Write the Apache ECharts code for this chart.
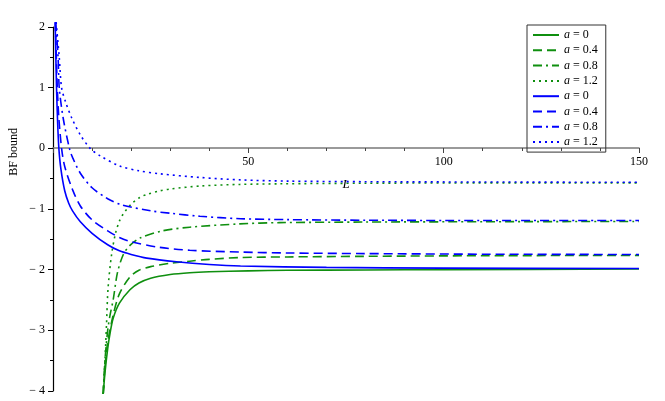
<!DOCTYPE html>
<html>
<head>
<meta charset="utf-8">
<script src="https://cdn.jsdelivr.net/npm/echarts@6/dist/echarts.min.js"></script>
<style>
  html, body { margin: 0; padding: 0; background: #fff; }
  #chart { width: 665px; height: 401px; }
</style>
</head>
<body>
<div id="chart"></div>
<script>
// green curves (rise from -4)
const greenSolidL = [12.85, 13.3, 14, 14.6, 15.4, 17, 19.7, 22, 25, 30, 35, 40, 50, 60, 80, 100, 150]
const greenSolidV = [-4.05, -3.7, -3.3, -3.05, -2.8, -2.55, -2.33, -2.22, -2.14, -2.08, -2.05, -2.035, -2.02, -2.01, -2.005, -2.0, -1.99]
const greenDashL = [12.85, 13.3, 14, 15.4, 17, 19.7, 22, 25, 30, 35, 40, 48, 60, 80, 110, 150]
const greenDashV = [-4.05, -3.6, -3.2, -2.75, -2.4, -2.12, -2.01, -1.95, -1.895, -1.86, -1.83, -1.8, -1.79, -1.78, -1.77, -1.765]
const greenDashDotL = [12.85, 13.3, 14, 14.6, 15.4, 16.5, 18, 19.7, 22.2, 28, 35, 47.8, 58, 80, 110, 150]
const greenDashDotV = [-4.05, -3.5, -3.0, -2.75, -2.5, -2.05, -1.75, -1.6, -1.48, -1.36, -1.3, -1.245, -1.225, -1.215, -1.21, -1.205]
const greenDotL = [12.85, 13.3, 13.7, 14.1, 15, 16, 17, 18, 20, 22.2, 24, 27.4, 30, 38, 47.8, 58, 80, 110, 150]
const greenDotV = [-4.05, -3.5, -2.9, -2.3, -1.75, -1.4, -1.2, -1.08, -0.92, -0.81, -0.76, -0.7, -0.67, -0.62, -0.595, -0.585, -0.575, -0.57, -0.57]

// blue curves (fall from the top)
const blueSolidL = [0.55, 0.9, 1.2, 1.5, 2, 3, 4, 5, 7, 10, 14, 17, 20, 24, 31.6, 40, 48, 70, 100, 150]
const blueSolidV = [2.08, 1.0, 0.4, 0.0, -0.33, -0.7, -0.9, -1.03, -1.21, -1.4, -1.59, -1.69, -1.75, -1.81, -1.87, -1.915, -1.94, -1.962, -1.975, -1.98]
const blueDashL = [0.6, 1.1, 1.5, 2.2, 3, 5, 7, 10, 14, 17, 20, 27, 35, 48, 60, 80, 110, 150]
const blueDashV = [2.08, 1.0, 0.5, 0.0, -0.3, -0.68, -0.95, -1.18, -1.36, -1.47, -1.54, -1.63, -1.68, -1.71, -1.725, -1.735, -1.745, -1.75]
const blueDashDotL = [0.7, 1.3, 1.6, 2.6, 4.2, 5, 7, 10, 14, 17.5, 25, 30, 37.6, 48, 60, 80, 110, 150]
const blueDashDotV = [2.08, 1.5, 1.0, 0.5, 0.0, -0.15, -0.41, -0.65, -0.83, -0.93, -1.03, -1.07, -1.12, -1.16, -1.175, -1.185, -1.19, -1.19]
const blueDotL = [0.8, 1.6, 2.2, 3.3, 4.8, 7, 9.5, 12, 17, 22, 27.4, 37.6, 48, 60, 80, 110, 150]
const blueDotV = [2.08, 1.5, 1.0, 0.75, 0.5, 0.22, 0.0, -0.12, -0.29, -0.37, -0.42, -0.48, -0.52, -0.54, -0.55, -0.555, -0.56]

const legendLabels = ['a = 0', 'a = 0.4', 'a = 0.8', 'a = 1.2']

const GREEN = '#0f8f0f'
const BLUE = '#0000ff'
const FONT = 'Liberation Serif'

// plot box in pixels, y runs -4..2
const GRID_TOP = 27
const GRID_BOTTOM = 10
const PLOT_H = 401 - GRID_TOP - GRID_BOTTOM
const ZERO_OFFSET = -Math.round(PLOT_H * 4 / 6)

const zip = (xs, ys) => xs.map((x, i) => [x, ys[i]])

const curves = [
  { id: 'g0', L: greenSolidL, V: greenSolidV, color: GREEN, type: 'solid', label: 0 },
  { id: 'g1', L: greenDashL, V: greenDashV, color: GREEN, type: [9, 5], label: 1 },
  { id: 'g2', L: greenDashDotL, V: greenDashDotV, color: GREEN, type: [9, 4, 2, 4], label: 2 },
  { id: 'g3', L: greenDotL, V: greenDotV, color: GREEN, type: [2, 4], label: 3 },
  { id: 'b0', L: blueSolidL, V: blueSolidV, color: BLUE, type: 'solid', label: 0 },
  { id: 'b1', L: blueDashL, V: blueDashV, color: BLUE, type: [9, 5], label: 1 },
  { id: 'b2', L: blueDashDotL, V: blueDashDotV, color: BLUE, type: [9, 4, 2, 4], label: 2 },
  { id: 'b3', L: blueDotL, V: blueDotV, color: BLUE, type: [2, 4], label: 3 }
]
const labelOf = {}
curves.forEach(c => { labelOf[c.id] = legendLabels[c.label] })

const chart = echarts.init(document.getElementById('chart'))

const option = {
  backgroundColor: '#fff',
  animation: false,
  grid: { left: 53, right: 26, top: GRID_TOP, bottom: GRID_BOTTOM, outerBoundsMode: 'none', containLabel: false },
  legend: {
    orient: 'vertical',
    left: 527,
    top: 25,
    padding: [4, 8, 4, 5],
    itemWidth: 26,
    itemHeight: 10,
    itemGap: 3.3,
    borderColor: '#333',
    borderWidth: 1,
    itemStyle: { opacity: 0 },
    data: curves.map(c => c.id),
    formatter: name => '{i|a}' + labelOf[name].slice(1),
    textStyle: {
      fontFamily: FONT,
      fontSize: 12,
      color: '#000',
      rich: { i: { fontFamily: FONT, fontSize: 12, fontStyle: 'italic', color: '#000' } }
    }
  },
  xAxis: {
    type: 'value',
    min: 0,
    max: 150,
    interval: 50,
    position: 'bottom',
    offset: ZERO_OFFSET,
    name: 'L',
    nameLocation: 'middle',
    nameGap: 30,
    nameTextStyle: { fontFamily: FONT, fontStyle: 'italic', fontSize: 13, color: '#000' },
    axisLine: { onZero: false, lineStyle: { color: '#7a7a7a', width: 1.6 } },
    axisTick: { length: 5, lineStyle: { color: '#444' } },
    minorTick: { show: true, splitNumber: 5, length: 3, lineStyle: { color: '#444' } },
    splitLine: { show: false },
    axisLabel: {
      showMinLabel: false,
      margin: 8,
      fontFamily: FONT,
      fontSize: 12,
      color: '#000'
    }
  },
  yAxis: {
    type: 'value',
    min: -4,
    max: 2,
    interval: 1,
    axisLine: { onZero: false, lineStyle: { color: '#000', width: 1.2 } },
    axisTick: { length: 5, lineStyle: { color: '#000' } },
    minorTick: { show: true, splitNumber: 2, length: 3, lineStyle: { color: '#000' } },
    splitLine: { show: false },
    axisLabel: {
      margin: 8,
      fontFamily: FONT,
      fontSize: 12,
      color: '#000',
      formatter: v => (v < 0 ? '\u2212 ' + Math.abs(v) : String(v))
    }
  },
  graphic: [{
    type: 'text',
    left: 8,
    top: 128,
    rotation: Math.PI / 2,
    style: { text: 'BF bound', fontFamily: FONT, fontSize: 12, fill: '#000' }
  }],
  series: curves.map(c => ({
    name: c.id,
    type: 'line',
    data: zip(c.L, c.V),
    showSymbol: false,
    symbol: 'none',
    smooth: 0.3,
    clip: false,
    color: c.color,
    lineStyle: { color: c.color, width: 1.6, type: c.type }
  }))
}

chart.setOption(option)
</script>
</body>
</html>
